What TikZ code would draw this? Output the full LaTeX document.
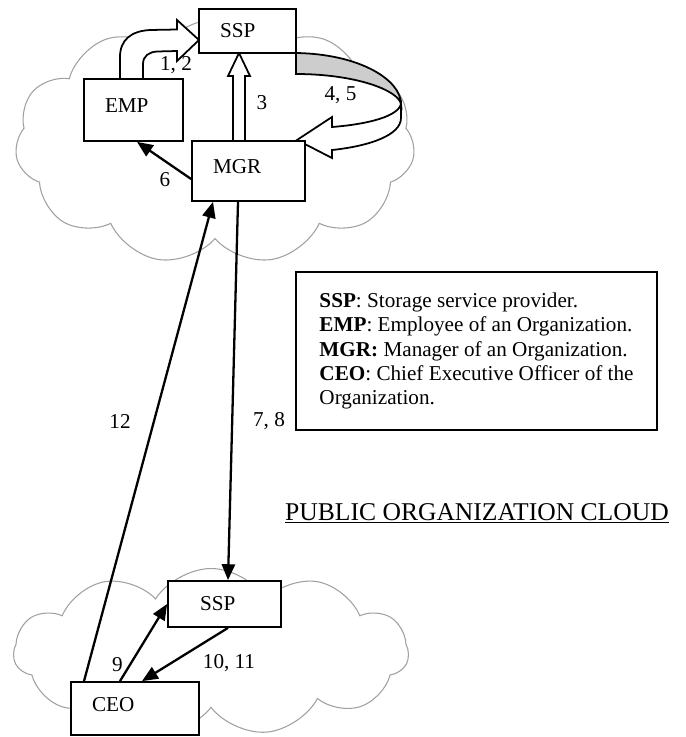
\documentclass[tikz,border=0pt]{standalone}
\usepackage{fontspec}
\setmainfont{Liberation Serif}
\usepackage{tikz}
\usetikzlibrary{positioning,shapes.symbols,arrows.meta,calc}
\newlength{\pxu}\setlength{\pxu}{0.567pt}
\definecolor{ink}      {HTML}{000000}
\definecolor{cloudline}{HTML}{A0A0A0}
\definecolor{backface} {HTML}{CDCDCD}
\tikzset{
  every node/.style={font=\fontsize{12}{13.8}\selectfont},
  % --- nodes
  box/.style    = {draw=ink, line width=1pt, fill=white, align=left,
                   inner xsep=21\pxu, inner ysep=0pt},
  high/.style   = {text depth=5pt},
  legend/.style = {box, inner xsep=22\pxu},
  sky/.style    = {cloud, cloud puffs=11, cloud puff arc=115, cloud ignores aspect,
                   draw=cloudline, line width=0.6pt},
  lbl/.style    = {inner sep=1pt},
  title/.style  = {font=\fontsize{14.5}{16}\selectfont, anchor=base},
  % --- edges
  conn/.style   = {-{Triangle[length=9pt,width=7.5pt]}, line width=1.3pt, draw=ink},
  blk/.style    = {line width=1pt, draw=ink, fill=white, line join=miter},
  blkback/.style= {blk, fill=backface},
}
\begin{document}
\begin{tikzpicture}[x=0.567pt, y=-0.567pt]
  \useasboundingbox (0,0) rectangle (686,737);
  % clouds
  \node[sky, minimum width=400\pxu, minimum height=245\pxu] (orgcloud) at (215,142) {};
  \node[sky, minimum width=395\pxu, minimum height=167\pxu] (pubcloud) at (211,652) {};
  % block arrows (1, 2), (3), (4, 5)
  \draw[blk] (120,79) -- (120,57) .. controls (120,40) and (131,31) .. (150,30)
    -- (177,29.5) -- (177,20) -- (199,40) -- (177,61) -- (177,51) -- (157,51.5)
    .. controls (149,52) and (143,56) .. (143,64) -- (143,79);
  \draw[blk] (233,141) -- (233,76) -- (228,76) -- (239,53) -- (250,76) -- (245,76) -- (245,141);
  \draw[blkback] (296,53) .. controls (360,54) and (401,80) .. (401,104)
    .. controls (398,90) and (355,74) .. (296,74) -- cycle;
  \draw[blk] (401,104) -- (401,118) .. controls (401,135) and (370,146) .. (332,150)
    -- (332,158) -- (297,140) -- (332,117) -- (332,127)
    .. controls (370,124) and (398,116) .. (401,104) -- cycle;
  % boxes
  \node[box, minimum width=97\pxu, text width=55\pxu, minimum height=44\pxu] (ssp) at (247.5,31) {SSP};
  \node[box, high, minimum width=99\pxu, text width=57\pxu, minimum height=62\pxu] (emp) at (133.5,110) {EMP};
  \node[box, high, minimum width=113\pxu, text width=71\pxu, minimum height=60\pxu] (mgr) at (248.5,171) {MGR};
  \node[box, inner xsep=32\pxu, minimum width=113\pxu, text width=49\pxu, minimum height=46\pxu] (sspb) at (224.5,604) {SSP};
  \node[box, high, minimum width=128\pxu, text width=86\pxu, minimum height=53\pxu] (ceo) at (135,708.5) {CEO};
  \node[legend, minimum width=361\pxu, minimum height=158\pxu] (key) at (476.5,351)
    {\textbf{SSP}: Storage service provider.\\
     \textbf{EMP}: Employee of an Organization.\\
     \textbf{MGR:} Manager of an Organization.\\
     \textbf{CEO}: Chief Executive Officer of the\\
     Organization.};
  \node[title] (pubtitle) at (477,520) {\underline{PUBLIC ORGANIZATION CLOUD}};
  % connectors
  \draw[conn] ([yshift=-8\pxu]mgr.west) -- ([xshift=3.5\pxu]emp.south);
  \draw[conn] ([xshift=-10.5\pxu]mgr.south) -- ([xshift=3.5\pxu]sspb.north);
  \draw[conn] ([xshift=-51\pxu]ceo.north) -- ([xshift=-35.5\pxu]mgr.south);
  \draw[conn] ([xshift=-15\pxu]ceo.north) -- (sspb.west);
  \draw[conn] ([xshift=3.5\pxu]sspb.south) -- ([xshift=7\pxu]ceo.north);
  % step numbers
  \node[lbl] (n12)   at (176,65.5) {1, 2};
  \node[lbl] (n3)    at (262,102.5) {3};
  \node[lbl] (n45)   at (340.5,95) {4, 5};
  \node[lbl] (n6)    at (165,180) {6};
  \node[lbl] (n78)   at (269,421) {7, 8};
  \node[lbl] (n9)    at (117.5,665) {9};
  \node[lbl] (n1011) at (229,663) {10, 11};
  \node[lbl] (n12b)  at (120,421) {12};
\end{tikzpicture}
\end{document}
